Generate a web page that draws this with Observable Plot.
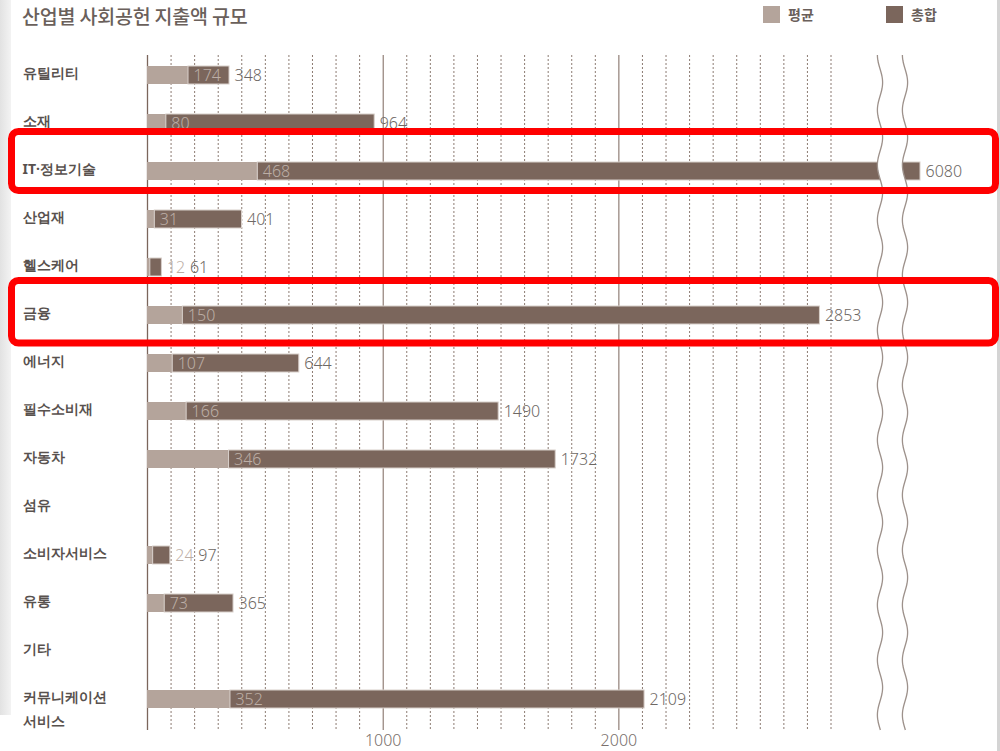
<!DOCTYPE html>
<html><head><meta charset="utf-8">
<script src="https://cdn.jsdelivr.net/npm/d3@7"></script>
<script src="https://cdn.jsdelivr.net/npm/@observablehq/plot@0.6"></script>
<style>
body{margin:0;background:#fff;width:1000px;height:751px;overflow:hidden;position:relative;font-family:"Noto Sans CJK KR","Noto Sans",sans-serif;}
#strip{position:absolute;left:0;top:0;width:11px;height:715px;background:linear-gradient(to right,#e2e2e2,#f3f3f3);}
#edge{position:absolute;right:0;top:0;width:3px;height:751px;background:#d4d4d4;}
#title{position:absolute;left:22px;top:1px;font-size:19.5px;color:#6a605b;font-weight:500;letter-spacing:-0.2px;}
.lg{position:absolute;top:4px;font-size:14px;font-weight:bold;color:#6a605b;display:flex;align-items:center;}
.sw{width:17px;height:17px;margin-right:8px;}
#chart{position:absolute;left:0;top:35px;}
</style></head>
<body>
<div id="strip"></div><div id="edge"></div>
<div id="title">산업별 사회공헌 지출액 규모</div>
<div class="lg" style="left:763px"><div class="sw" style="background:#b4a49b"></div>평균</div>
<div class="lg" style="left:886px"><div class="sw" style="background:#7b665c"></div>총합</div>
<div id="chart"></div>
<script>
const categories = ["유틸리티","소재","IT·정보기술","산업재","헬스케어","금융","에너지","필수소비재","자동차","섬유","소비자서비스","유통","기타","커뮤니케이션\n서비스"];
const averages = [174,80,468,31,12,150,107,166,346,null,24,73,null,352];
const totals = [348,964,6080,401,61,2853,644,1490,1732,null,97,365,null,2109];
const xTickLabels = [1000, 2000];
const highlighted = ["IT·정보기술","금융"];
const breakStart = 3110, breakEnd = 5990;

const LIGHT = "#b4a49b", DARK = "#7b665c";
const NUM = {fontSize: 16, fontFamily: "Noto Sans", letterSpacing: "0.6px", fontWeight: 300};
const rows = categories.map((c,i)=>({cat:c, avg:averages[i], total:totals[i]})).filter(d=>d.avg!=null);
const collapsed = d => d.total - d.avg < 100;
const gridMinor = d3.range(100, 3001, 100).filter(v => v % 1000 !== 0);

function breakMark(index, scales, values, dim) {
  const x = scales.x;
  const top = dim.marginTop, bottom = dim.height - dim.marginBottom;
  const A = 2.6, P = 55;
  const wave = xc => d3.range(top, bottom + 0.5, 1).map(yy => [xc - A*Math.cos(2*Math.PI*(yy-top)/P), yy]);
  const L = wave(x(breakStart)), R = wave(x(breakEnd));
  const g = d3.create("svg:g");
  g.append("path").attr("d", d3.line()(L.concat(R.slice().reverse())) + "Z").attr("fill", "#fff");
  for (const w of [L, R]) g.append("path").attr("d", d3.line()(w)).attr("fill","none").attr("stroke","#9d918b").attr("stroke-width",1.3);
  return g.node();
}
function highlightMark(index, scales, values, dim) {
  const y = scales.y;
  const bw = typeof y.bandwidth === "function" ? y.bandwidth() : 0;
  const pad = {"IT·정보기술":[-39.5,19.5], "금융":[-34.5,28]};
  const g = d3.create("svg:g");
  for (const c of highlighted) {
    const cy = y(c) + bw/2;
    g.append("rect").attr("x",11.5).attr("y",cy+pad[c][0]).attr("width",984).attr("height",pad[c][1]-pad[c][0])
      .attr("rx",7).attr("fill","none").attr("stroke","#ff0000").attr("stroke-width",7);
  }
  return g.node();
}

const plot = Plot.plot({
  width: 1000, height: 716,
  marginTop: 20, marginBottom: 21, marginLeft: 147, marginRight: 60,
  style: {background: "transparent", overflow: "visible"},
  x: {type: "linear", domain: [0, breakStart, breakEnd, 6080], range: [147, 880, 905, 920], axis: null},
  y: {domain: categories, paddingInner: 0.628, paddingOuter: 0.29, align: 0.32, axis: null},
  marks: [
    Plot.ruleX(gridMinor, {stroke: "#8c7b72", strokeDasharray: "2,2", strokeWidth: 1}),
    Plot.ruleX(xTickLabels, {stroke: DARK, strokeWidth: 1}),
    Plot.ruleX([0], {stroke: DARK, strokeWidth: 1.3}),
    Plot.text(xTickLabels, {x: d => d, frameAnchor: "bottom", dy: 15, text: d => String(d), fill: "#7a706c", ...NUM}),
    Plot.text(categories, {y: d => d, frameAnchor: "left", dx: -125, textAnchor: "start", lineAnchor: "top", dy: -15, lineHeight: 1.75, fontSize: 14, fontWeight: "bold", fill: "#58514e"}),
    Plot.barX(rows, {y: "cat", x1: 0, x2: "avg", fill: LIGHT}),
    Plot.barX(rows, {y: "cat", x1: "avg", x2: "total", fill: DARK, stroke: "#d8cfca", strokeWidth: 1}),
    breakMark,
    Plot.text(rows, {y: "cat", x: d => collapsed(d) ? d.total : d.avg, text: d => String(d.avg), dx: 5, textAnchor: "start", fill: "#bcaea6", ...NUM}),
    Plot.text(rows.filter(d => !collapsed(d)), {y: "cat", x: "total", text: d => String(d.total), dx: 5, textAnchor: "start", fill: "#6e6864", ...NUM}),
    Plot.text(rows.filter(collapsed), {y: "cat", x: "total", text: d => String(d.total), dx: 28, textAnchor: "start", fill: "#6e6864", ...NUM}),
    highlightMark
  ]
});
document.getElementById("chart").appendChild(plot);
</script>
</body></html>
